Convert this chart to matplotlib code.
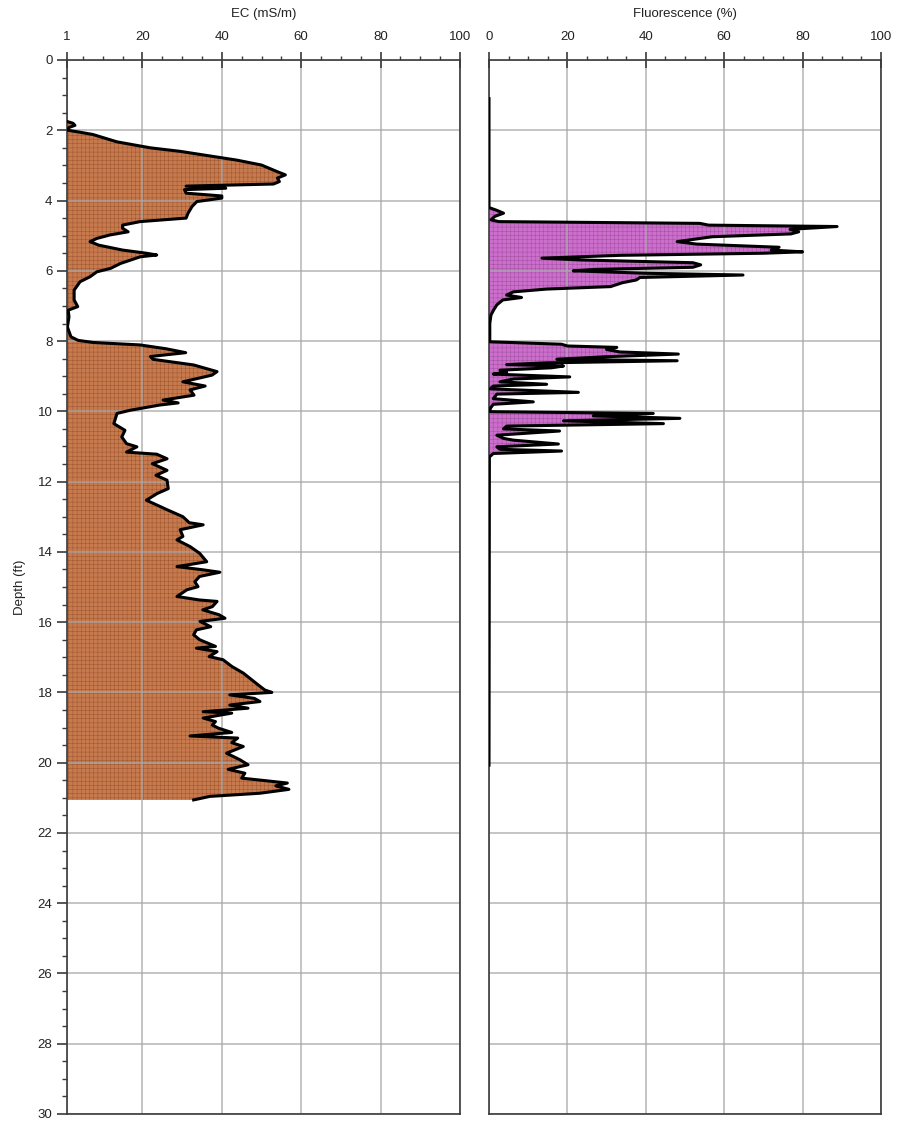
import numpy as np
import matplotlib
matplotlib.use("Agg")
import matplotlib.pyplot as plt
from matplotlib.ticker import MultipleLocator, FixedLocator

plt.rcParams['font.family'] = ['Liberation Sans', 'DejaVu Sans']
plt.rcParams['hatch.linewidth'] = 0.3

# EC log (depth in ft, EC in mS/m)
ec_depth = [1.75, 1.80, 1.86, 1.92, 2.00, 2.05, 2.12, 2.33, 2.50, 2.60, 2.85, 2.99,
            3.18, 3.27, 3.36, 3.46, 3.53, 3.59, 3.65, 3.69, 3.79, 3.87, 3.93, 4.03,
            4.17, 4.36, 4.50, 4.60, 4.70, 4.79, 4.89, 4.98, 5.08, 5.17, 5.27, 5.41,
            5.50, 5.55, 5.60, 5.70, 5.79, 5.93, 6.03, 6.17, 6.31, 6.55, 6.83, 7.02,
            7.12, 7.31, 7.60, 7.88, 7.98, 8.04, 8.11, 8.22, 8.33, 8.44, 8.52, 8.68,
            8.87, 8.97, 9.16, 9.28, 9.39, 9.54, 9.68, 9.76, 9.82, 9.97, 10.06, 10.35,
            10.54, 10.73, 10.92, 11.01, 11.16, 11.22, 11.35, 11.49, 11.68, 11.82, 11.96, 12.20,
            12.34, 12.53, 12.80, 13.00, 13.17, 13.23, 13.37, 13.56, 13.66, 13.85, 14.04, 14.28,
            14.42, 14.51, 14.58, 14.70, 14.85, 14.99, 15.08, 15.27, 15.37, 15.41, 15.56, 15.65,
            15.79, 15.89, 15.98, 16.13, 16.22, 16.36, 16.50, 16.69, 16.74, 16.84, 16.98, 17.07,
            17.26, 17.45, 17.64, 17.79, 17.93, 18.00, 18.07, 18.17, 18.26, 18.36, 18.45, 18.55,
            18.59, 18.73, 18.83, 18.93, 19.02, 19.14, 19.24, 19.30, 19.43, 19.54, 19.73, 19.92,
            20.06, 20.19, 20.30, 20.44, 20.58, 20.66, 20.76, 20.87, 20.96, 21.06]
ec_value = [1.0, 2.5, 3.0, 1.5, 1.2, 4.0, 7.5, 13.6, 22.0, 29.5, 43.8, 50.0,
            54.0, 56.0, 54.0, 54.5, 53.0, 31.0, 41.0, 30.6, 31.0, 40.0, 40.0, 33.7,
            32.5, 31.5, 31.0, 19.4, 15.0, 15.0, 16.4, 11.8, 8.5, 6.8, 9.0, 15.0,
            21.0, 23.6, 19.5, 16.9, 14.5, 12.0, 8.5, 6.8, 4.3, 2.8, 2.8, 3.7,
            1.3, 1.5, 1.1, 2.0, 3.8, 7.6, 19.4, 26.0, 30.9, 22.0, 22.7, 32.9,
            38.8, 37.5, 30.2, 35.8, 32.0, 33.0, 25.2, 29.0, 24.4, 16.9, 13.6, 12.8,
            15.6, 14.8, 16.0, 18.6, 16.0, 23.6, 26.2, 22.5, 26.2, 23.4, 26.2, 26.5,
            23.7, 21.0, 26.2, 30.2, 31.8, 35.3, 29.5, 30.2, 28.7, 32.0, 34.4, 36.2,
            28.7, 35.2, 39.5, 34.4, 33.2, 34.0, 31.2, 28.7, 34.4, 38.8, 37.6, 35.2,
            39.3, 40.8, 34.5, 37.2, 33.6, 32.9, 34.4, 38.4, 33.6, 38.8, 36.8, 40.3,
            42.5, 45.4, 47.5, 49.2, 50.8, 52.6, 42.0, 48.2, 49.6, 42.0, 46.6, 35.3,
            42.5, 35.3, 38.4, 37.6, 39.2, 42.5, 32.0, 44.0, 42.5, 45.4, 41.2, 44.6,
            46.6, 41.6, 45.8, 45.0, 56.5, 53.6, 56.9, 49.6, 37.0, 32.9]

# Fluorescence log (depth in ft, %)
fl_depth = [1.10, 4.20, 4.28, 4.36, 4.45, 4.55, 4.60, 4.65, 4.70, 4.74, 4.82, 4.89,
            4.95, 5.03, 5.17, 5.24, 5.33, 5.41, 5.46, 5.50, 5.56, 5.64, 5.69, 5.77,
            5.83, 5.90, 5.96, 6.00, 6.07, 6.12, 6.19, 6.26, 6.34, 6.45, 6.52, 6.60,
            6.69, 6.76, 6.83, 6.97, 7.11, 7.26, 7.50, 8.02, 8.09, 8.14, 8.18, 8.24,
            8.31, 8.37, 8.45, 8.52, 8.56, 8.62, 8.67, 8.71, 8.76, 8.83, 8.89, 8.94,
            9.02, 9.08, 9.16, 9.23, 9.28, 9.36, 9.46, 9.51, 9.64, 9.73, 9.80, 9.92,
            10.01, 10.06, 10.13, 10.20, 10.27, 10.35, 10.42, 10.50, 10.56, 10.68, 10.77, 10.82,
            10.93, 11.01, 11.08, 11.13, 11.20, 11.30, 20.07]
fl_value = [0.0, 0.0, 2.0, 3.7, 1.5, 0.5, 2.5, 53.8, 56.0, 88.8, 76.8, 79.0,
            77.0, 57.0, 48.0, 53.0, 74.0, 72.0, 80.0, 70.0, 33.4, 13.5, 23.0, 52.0,
            54.0, 52.0, 27.0, 21.5, 40.0, 64.8, 38.5, 37.6, 34.0, 31.0, 14.7, 6.2,
            4.5, 8.3, 3.5, 2.0, 1.2, 0.5, 0.2, 0.2, 18.5, 20.0, 32.6, 30.0,
            33.4, 48.3, 29.0, 17.3, 48.0, 14.7, 4.5, 19.0, 16.0, 2.8, 4.5, 1.1,
            20.6, 6.2, 2.8, 14.7, 1.1, 0.3, 22.8, 2.0, 1.1, 11.3, 1.1, 0.3,
            0.3, 41.9, 26.6, 48.7, 19.0, 44.5, 4.5, 3.7, 18.0, 2.0, 3.7, 6.2,
            17.7, 2.0, 2.8, 18.5, 1.1, 0.1, 0.0]

ec_ticks = [1, 20, 40, 60, 80, 100]
fl_ticks = [0, 20, 40, 60, 80, 100]

fig = plt.figure(figsize=(9, 11.3), dpi=100)
ax1 = fig.add_axes([67 / 900, 1 - 1114 / 1130, 393 / 900, 1054 / 1130])
ax2 = fig.add_axes([489 / 900, 1 - 1114 / 1130, 392 / 900, 1054 / 1130], sharey=ax1)

spine_col = '#3a3a3a'
text_col = '#222222'


def style_axis(ax, xlim, ticks, label):
    ax.set_xlim(*xlim)
    ax.set_ylim(30, 0)
    ax.xaxis.tick_top()
    ax.xaxis.set_label_position('top')
    ax.xaxis.set_major_locator(FixedLocator(ticks))
    ax.xaxis.set_minor_locator(MultipleLocator(5))
    ax.tick_params(axis='x', which='major', direction='inout', length=11.5, width=1.2,
                   pad=6.5, labelsize=9.5, colors=spine_col, labelcolor=text_col)
    ax.tick_params(axis='x', which='minor', direction='out', length=3, width=1.0,
                   colors=spine_col)
    ax.set_xlabel(label, fontsize=9.5, color=text_col, labelpad=10)
    ax.yaxis.set_major_locator(MultipleLocator(2))
    ax.yaxis.set_minor_locator(MultipleLocator(0.5))
    ax.set_axisbelow('line')
    ax.grid(True, which='major', color='#a8a8a8', linewidth=1.2, alpha=0.8)
    for sp in ax.spines.values():
        sp.set_color(spine_col)
        sp.set_linewidth(1.2)


style_axis(ax1, (1, 100), ec_ticks, 'EC (mS/m)')
style_axis(ax2, (0, 100), fl_ticks, 'Fluorescence (%)')

ax1.tick_params(axis='y', which='major', direction='out', length=7, width=1.2, pad=3.5,
                labelsize=9.5, colors=spine_col, labelcolor=text_col)
ax1.tick_params(axis='y', which='minor', direction='out', length=3.5, width=1.0,
                colors=spine_col)
ax1.set_ylabel('Depth (ft)', fontsize=9.5, color=text_col, labelpad=8)
ax2.tick_params(axis='y', which='both', left=False, labelleft=False)

# EC trace
ax1.fill_betweenx(ec_depth, 1, ec_value, facecolor='#c67a4e', edgecolor='#97502c',
                  linewidth=0, hatch='++++', zorder=1)
ax1.plot(ec_value, ec_depth, color='black', linewidth=2.2, solid_joinstyle='round', zorder=3)

# Fluorescence trace
ax2.fill_betweenx(fl_depth, 0, fl_value, facecolor='#cc6ecc', edgecolor='#9a4a9a',
                  linewidth=0, hatch='++++', zorder=1)
ax2.plot(fl_value, fl_depth, color='black', linewidth=2.2, solid_joinstyle='round', zorder=3)

fig.savefig('out.png', dpi=100)
